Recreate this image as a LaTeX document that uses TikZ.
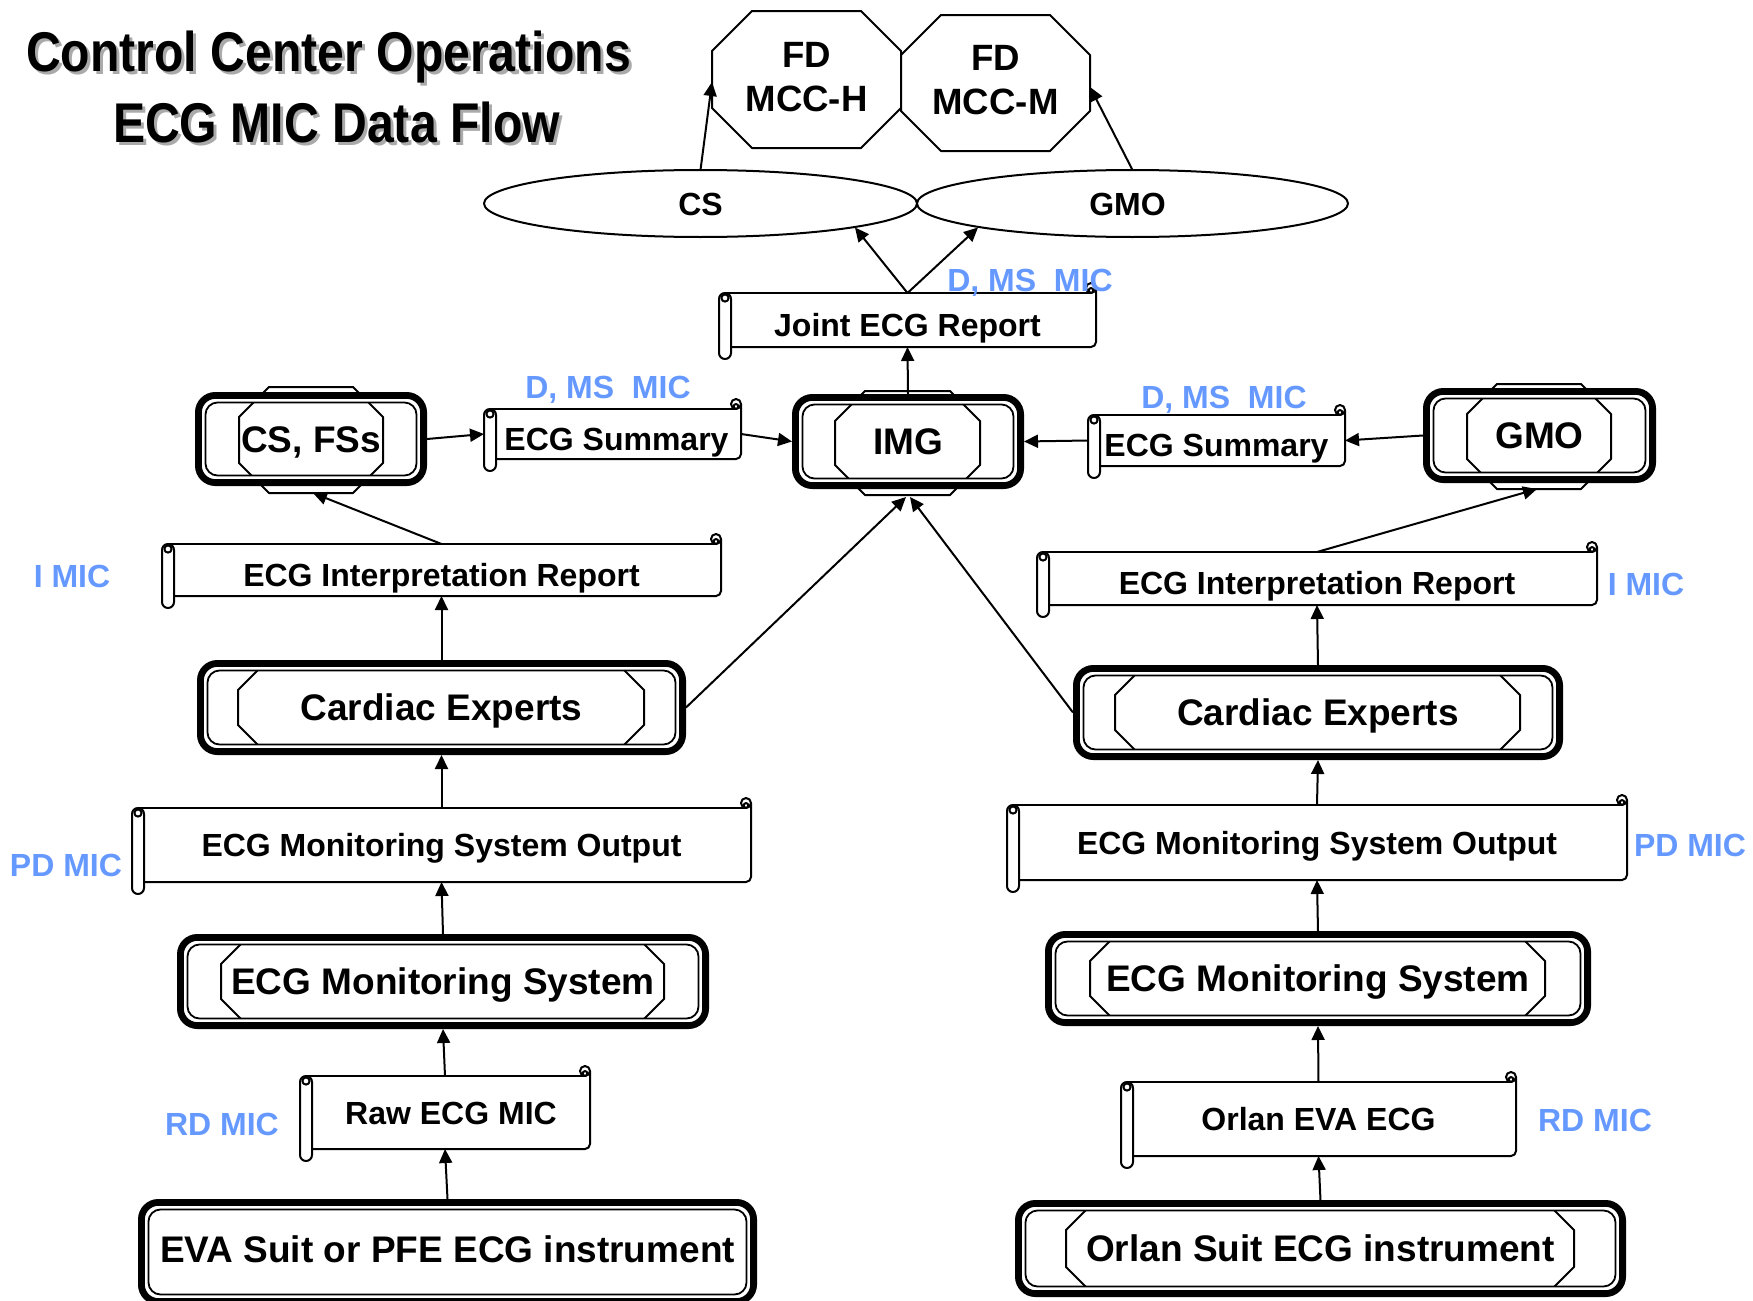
\documentclass[tikz,border=0pt]{standalone}
\usepackage{fontspec}
\setmainfont{Liberation Sans}
\newfontfamily\titlefont[FakeStretch=0.86]{Liberation Sans}
\usetikzlibrary{arrows.meta,calc,shapes.geometric}
\definecolor{micblue}{RGB}{102,153,255}
\definecolor{shadowgray}{RGB}{170,170,170}
\tikzset{
  ln/.style={line width=1pt, line join=round},
  arr/.style={line width=1pt, -{Triangle[length=7pt,width=6.5pt]}},
  big/.style={font=\fontsize{18.5}{22}\selectfont\bfseries, inner sep=0pt, outer sep=0pt, text height=13.2pt, text depth=0pt},
  bigml/.style={font=\fontsize{18.3}{22}\selectfont\bfseries, inner sep=0pt, outer sep=0pt, align=center},
  small/.style={font=\fontsize{16}{19}\selectfont\bfseries, inner sep=0pt, outer sep=0pt, text height=11.5pt, text depth=0pt},
  lowtxt/.style={small, text height=16pt},
  midtxt/.style={small, text height=11.5pt},
  mic/.style={small, text=micblue},
  ttl/.style={font=\titlefont\fontsize{28}{32}\selectfont\bfseries, inner sep=0pt, outer sep=0pt, text height=20pt, text depth=0pt},
}
% node spanning a box given in pixel coordinates: name, x0, y0, x1, y1, style, text
\newcommand\boxnode[7]{\node[#6, minimum width={(#4-#2)*0.5pt}, minimum height={(#5-#3)*0.5pt}] (#1) at ({(#2+#4)/2},{(#3+#5)/2}) {#7};}
% octagon: x0, y0, x1, y1, cut
\newcommand\octa[5]{\draw[ln, fill=white] (#1+#5,#2) -- (#3-#5,#2) -- (#3,#2+#5) -- (#3,#4-#5) -- (#3-#5,#4) -- (#1+#5,#4) -- (#1,#4-#5) -- (#1,#2+#5) -- cycle;}
% double frame: x0, y0, x1, y1 (outer edges)
\newcommand\dframe[4]{%
  \draw[white, line width=1.6pt, rounded corners=7pt] (#1+8.2,#2+8.2) rectangle (#3-8.2,#4-8.2);
  \draw[line width=3.4pt, rounded corners=8.5pt] (#1+3.4,#2+3.4) rectangle (#3-3.4,#4-3.4);
  \draw[line width=0.9pt, rounded corners=6pt] (#1+10.5,#2+10.5) rectangle (#3-10.5,#4-10.5);
}
% horizontal scroll: name, x0, x1, ytop, ybottom, text style, text
\newcommand\scrollbox[7]{%
  \fill[white] (#2+6,#4) rectangle (#3,#5);
  \draw[ln] (#2+6,#4) -- (#3-5,#4);
  \draw[ln] (#3-5,#4-5) circle (2.5pt);
  \draw[ln] (#3-5,#4-2.5) circle (1.2pt);
  \draw[ln, rounded corners=2.5pt] (#3,#4-5) -- (#3,#5) -- (#2+12,#5);
  \draw[ln, fill=white, rounded corners=3pt] (#2,#4) rectangle (#2+12,#5+12);
  \draw[ln] (#2+6,#4+5) circle (1.8pt);
  \boxnode{#1}{#2}{#4}{#3}{#5}{#6}{#7}
}
\begin{document}
\begin{tikzpicture}[x=0.5pt,y=-0.5pt]
\useasboundingbox (0,0) rectangle (1753,1301);
\fill[white] (0,0) rectangle (1753,1301);

% ---------- title ----------
\node[ttl, text=shadowgray] (t1s) at (331.5,54) {Control Center Operations};
\node[ttl] (t1) at (328.5,51) {Control Center Operations};
\node[ttl, text=shadowgray] (t2s) at (339.5,125) {ECG MIC Data Flow};
\node[ttl] (t2) at (336.5,122) {ECG MIC Data Flow};

% ---------- flight directors ----------
\octa{712}{11}{901}{148}{40}
\octa{901}{15}{1090}{151}{40}
\node[bigml, minimum width=94.5pt, minimum height=65pt] (fdh) at (806.5,77) {FD\\MCC-H};
\node[bigml, minimum width=94.5pt, minimum height=65pt] (fdm) at (995.5,80.5) {FD\\MCC-M};

% ---------- ellipses ----------
\node[ellipse, draw, ln, small, minimum width=216.5pt, minimum height=33.5pt] (cs) at (700.5,203.5) {CS};
\node[ellipse, draw, ln, small, minimum width=215.5pt, minimum height=33.5pt] (gmoE) at (1132.5,203.5) {GMO\hspace*{5pt}};

% ---------- scrolls ----------
\scrollbox{joint}{719}{1096}{293}{347}{lowtxt}{Joint ECG Report}
\scrollbox{sumL}{484}{741}{409}{459}{lowtxt}{\hspace*{4pt}ECG Summary}
\scrollbox{sumR}{1088}{1345}{415}{466}{lowtxt}{ECG Summary}
\scrollbox{intL}{162}{721}{544}{596}{lowtxt}{ECG Interpretation Report}
\scrollbox{intR}{1037}{1597}{552}{605}{lowtxt}{ECG Interpretation Report}
\scrollbox{outL}{132}{751}{808}{882}{midtxt}{ECG Monitoring System Output}
\scrollbox{outR}{1007}{1627}{805}{880}{midtxt}{ECG Monitoring System Output}
\scrollbox{raw}{300}{590}{1076}{1149}{midtxt}{\hspace*{6pt}Raw ECG MIC}
\scrollbox{orlecg}{1121}{1516}{1082}{1156}{midtxt}{Orlan EVA ECG}

% ---------- framed boxes ----------
\octa{239}{387}{383}{493}{30}
\dframe{195}{392}{427}{486}
\boxnode{csf}{195}{392}{427}{486}{big}{CS, FSs}

\octa{835}{391}{980}{495}{30}
\dframe{792}{394}{1024}{489}
\boxnode{img}{792}{394}{1024}{489}{big}{IMG}

\octa{1467}{384}{1611}{489}{30}
\dframe{1423}{388}{1656}{483}
\boxnode{gmo}{1423}{388}{1656}{483}{big}{GMO}

\octa{238}{663}{644}{752}{27}
\dframe{197}{660}{686}{755}
\boxnode{cardL}{197}{660}{686}{755}{big}{Cardiac Experts}

\octa{1115}{668}{1520}{757}{27}
\dframe{1073}{665}{1563}{760}
\boxnode{cardR}{1073}{665}{1563}{760}{big}{Cardiac Experts}

\octa{221}{937}{664}{1026}{27}
\dframe{177}{934}{709}{1029}
\boxnode{sysL}{177}{934}{709}{1029}{big}{ECG Monitoring System}

\octa{1090}{934}{1545}{1023}{27}
\dframe{1045}{931}{1591}{1026}
\boxnode{sysR}{1045}{931}{1591}{1026}{big}{ECG Monitoring System}

\dframe{138}{1199}{757}{1305}
\boxnode{evaI}{138}{1199}{757}{1299}{big}{EVA Suit or PFE ECG instrument}

\octa{1066}{1203}{1574}{1294}{27}
\dframe{1015}{1200}{1626}{1297}
\boxnode{orlI}{1015}{1200}{1626}{1297}{big}{Orlan Suit ECG instrument}

% ---------- blue labels ----------
\node[mic] (mJ) at (1030,280) {D, MS\ \ MIC};
\node[mic] (mSL) at (608,387) {D, MS\ \ MIC};
\node[mic] (mSR) at (1224,397) {D, MS\ \ MIC};
\node[mic] (mIL) at (72,576) {I MIC};
\node[mic] (mIR) at (1646,584) {I MIC};
\node[mic] (mPL) at (66,865) {PD MIC};
\node[mic] (mPR) at (1690,845) {PD MIC};
\node[mic] (mRL) at (222,1124) {RD MIC};
\node[mic] (mRR) at (1595,1120) {RD MIC};

% ---------- connectors ----------
\draw[arr] (cs.north) -- ($(fdh.west)+(0,5)$);
\draw[arr] (gmoE.north) -- ($(fdm.east)+(0,6.5)$);
\draw[arr] (joint.north) -- ($(cs.center)+(154.5,24)$);
\draw[arr] (joint.north) -- ($(gmoE.center)+(-154.5,24)$);
\draw[arr] (img.north) -- (joint.south);
\draw[arr] (csf.east) -- (sumL.west);
\draw[arr] (sumL.east) -- (img.west);
\draw[arr] (sumR.west) -- (img.east);
\draw[arr] (gmo.west) -- (sumR.east);
\draw[arr] (intL.north) -- ($(csf.south)+(2,7)$);
\draw[arr] (intR.north) -- ($(gmo.south)+(-2.5,6)$);
\draw[arr] (cardL.north) -- (intL.south);
\draw[arr] (cardR.north) -- (intR.south);
\draw[arr] (cardL.east) -- ($(img.south)+(-2,8)$);
\draw[arr] (cardR.west) -- ($(img.south)+(2,8)$);
\draw[arr] (outL.north) -- (cardL.south);
\draw[arr] (outR.north) -- (cardR.south);
\draw[arr] (sysL.north) -- (outL.south);
\draw[arr] (sysR.north) -- (outR.south);
\draw[arr] (raw.north) -- (sysL.south);
\draw[arr] (orlecg.north) -- (sysR.south);
\draw[arr] (evaI.north) -- (raw.south);
\draw[arr] (orlI.north) -- (orlecg.south);
\end{tikzpicture}
\end{document}
